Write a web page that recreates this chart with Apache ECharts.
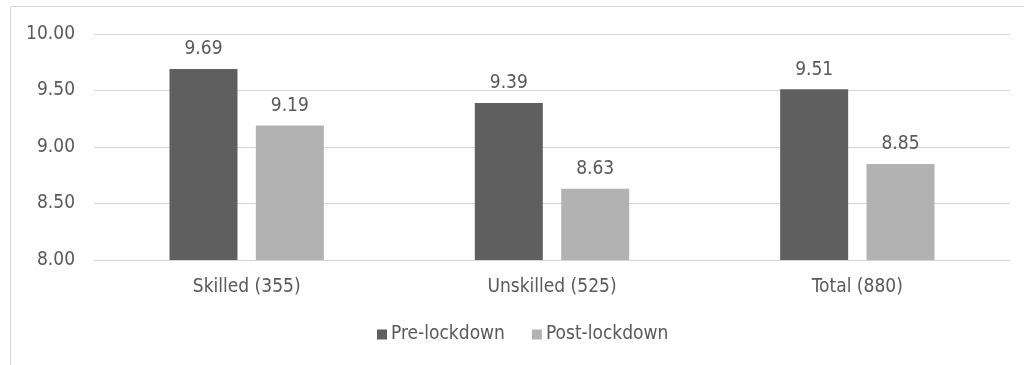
<!DOCTYPE html>
<html>
<head>
<meta charset="utf-8">
<script src="https://cdn.jsdelivr.net/npm/echarts@6/dist/echarts.min.js"></script>
<style>
  html, body { margin: 0; padding: 0; background: #ffffff; }
  #chart { width: 1024px; height: 365px; }
</style>
</head>
<body>
<div id="chart"></div>
<script>
// Mean scores by worker group, before and after lockdown
const categories = ['Skilled (355)', 'Unskilled (525)', 'Total (880)'];
const preLockdown = [9.69, 9.39, 9.51];
const postLockdown = [9.19, 8.63, 8.85];
const seriesNames = ['Pre-lockdown', 'Post-lockdown'];

const FONT = "'DejaVu Sans Condensed', 'DejaVu Sans', sans-serif";
const TEXT = '#595959';
const GRID = '#d6d6d6';

const chart = echarts.init(document.getElementById('chart'));

const labelCfg = {
  show: true,
  position: 'top',
  distance: 10,
  color: TEXT,
  fontFamily: FONT,
  fontSize: 19,
  formatter: p => p.value.toFixed(2)
};

chart.setOption({
  animation: false,
  backgroundColor: '#ffffff',
  textStyle: { fontFamily: FONT, color: TEXT },
  graphic: [{
    type: 'rect',
    shape: { x: 10.5, y: 6.5, width: 1200, height: 600 },
    style: { fill: 'none', stroke: GRID, lineWidth: 1 },
    silent: true,
    z: -1
  }],
  grid: { left: 94, right: 14, top: 34, bottom: 105, containLabel: false },
  legend: {
    data: seriesNames,
    left: 372,
    top: 320,
    itemWidth: 10,
    itemHeight: 10,
    itemGap: 27,
    icon: 'rect',
    textStyle: { color: TEXT, fontFamily: FONT, fontSize: 19, padding: [0, 0, 0, -1] }
  },
  xAxis: {
    type: 'category',
    data: categories,
    axisLine: { show: true, lineStyle: { color: GRID, width: 1 } },
    axisTick: { show: false },
    axisLabel: { color: TEXT, fontFamily: FONT, fontSize: 19, margin: 18 }
  },
  yAxis: {
    type: 'value',
    min: 8,
    max: 10,
    interval: 0.5,
    axisLine: { show: false },
    axisTick: { show: false },
    splitLine: { lineStyle: { color: GRID, width: 1 } },
    axisLabel: {
      color: TEXT, fontFamily: FONT, fontSize: 19, margin: 19,
      formatter: v => v.toFixed(2)
    }
  },
  series: [
    {
      name: seriesNames[0],
      type: 'bar',
      data: preLockdown,
      barWidth: 68,
      barGap: '27%',
      itemStyle: { color: '#5f5f5f' },
      label: labelCfg
    },
    {
      name: seriesNames[1],
      type: 'bar',
      data: postLockdown,
      barWidth: 68,
      barGap: '27%',
      itemStyle: { color: '#b2b2b2' },
      label: labelCfg
    }
  ]
});
</script>
</body>
</html>
